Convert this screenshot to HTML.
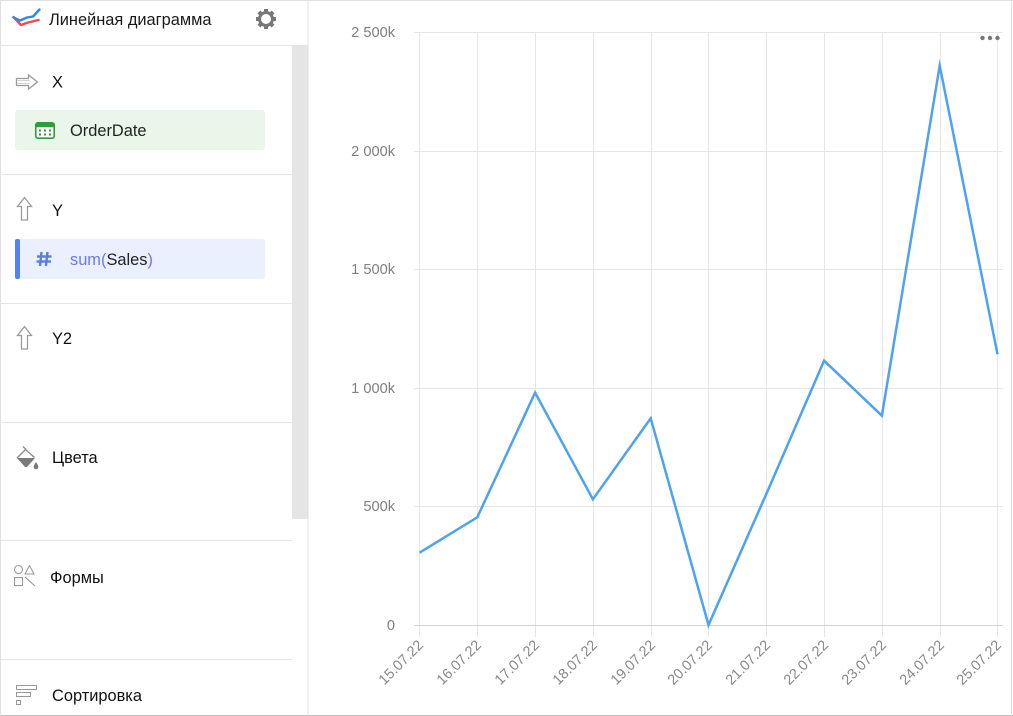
<!DOCTYPE html>
<html><head><meta charset="utf-8"><style>
html,body{margin:0;padding:0;background:#fff;}
svg{display:block;}
text{font-family:"Liberation Sans","DejaVu Sans",sans-serif;}
</style></head><body>
<svg width="1013" height="716" viewBox="0 0 1013 716" xmlns="http://www.w3.org/2000/svg">
<rect x="0" y="0" width="1013" height="716" fill="#fff"/>
<!-- scrollbar track -->
<rect x="292" y="45" width="16" height="474" fill="#e5e5e5"/>
<!-- outer borders -->
<line x1="0" y1="0.5" x2="1013" y2="0.5" stroke="#e0e0e0"/>
<line x1="0" y1="715.5" x2="1013" y2="715.5" stroke="#bdbdbd"/>
<line x1="0.5" y1="0" x2="0.5" y2="716" stroke="#e0e0e0"/>
<line x1="1011.5" y1="0" x2="1011.5" y2="716" stroke="#e0e0e0"/>
<line x1="308" y1="0" x2="308" y2="716" stroke="#e0e0e0"/>
<!-- header -->
<line x1="0" y1="45.5" x2="308" y2="45.5" stroke="#e5e5e5"/>
<polyline points="13.5,17 21,25 28,22.5 38.5,20" fill="none" stroke="#f4474c" stroke-width="2.4" stroke-linejoin="round" stroke-linecap="round"/>
<polyline points="13.5,17.5 20,20.5 27,17.5 33,16.5 39.5,9.5" fill="none" stroke="#2f86ef" stroke-width="2.4" stroke-linejoin="round" stroke-linecap="round"/>
<text x="49" y="25" font-size="16.4" fill="#1a1a1a">Линейная диаграмма</text>
<g transform="translate(266,19)" fill="#777">
  <circle r="6.5" fill="none" stroke="#777" stroke-width="3"/>
  <g>
    <rect x="-2" y="-10" width="4" height="4"/>
    <rect x="-2" y="6" width="4" height="4"/>
    <rect x="-10" y="-2" width="4" height="4"/>
    <rect x="6" y="-2" width="4" height="4"/>
    <g transform="rotate(45)">
      <rect x="-2" y="-10" width="4" height="4"/>
      <rect x="-2" y="6" width="4" height="4"/>
      <rect x="-10" y="-2" width="4" height="4"/>
      <rect x="6" y="-2" width="4" height="4"/>
    </g>
  </g>
</g>
<!-- section dividers -->
<line x1="0" y1="174.5" x2="292" y2="174.5" stroke="#e5e5e5"/>
<line x1="0" y1="303.5" x2="292" y2="303.5" stroke="#e5e5e5"/>
<line x1="0" y1="422.5" x2="292" y2="422.5" stroke="#e5e5e5"/>
<line x1="0" y1="540.5" x2="292" y2="540.5" stroke="#e5e5e5"/>
<line x1="0" y1="659.5" x2="292" y2="659.5" stroke="#e5e5e5"/>
<!-- X section -->
<path d="M16.5,78.5 H28.5 V75 L37.5,82 L28.5,89 V85.5 H16.5 Z" fill="none" stroke="#9a9a9a" stroke-width="1.3" stroke-linejoin="miter"/>
<path d="M17.5,80.5 H30 M17.5,83.5 H30" stroke="#c8c8c8" stroke-width="0.8"/>
<text x="52" y="87.5" font-size="16.4" fill="#111">X</text>
<rect x="15" y="110" width="250" height="40" rx="3" fill="#e9f6e9"/>
<rect x="35.8" y="122.8" width="18.4" height="15.4" rx="2" fill="#fff" stroke="#2f9e36" stroke-width="1.6"/>
<rect x="35.8" y="122.8" width="18.4" height="4.5" rx="1" fill="#2f9e36"/>
<g fill="#2f9e36"><rect x="39" y="129.5" width="2" height="2"/><rect x="44" y="129.5" width="2" height="2"/><rect x="49" y="129.5" width="2" height="2"/><rect x="39" y="133.5" width="2" height="2"/><rect x="44" y="133.5" width="2" height="2"/><rect x="49" y="133.5" width="2" height="2"/></g>
<text x="70" y="136" font-size="16.4" fill="#222">OrderDate</text>
<!-- Y section -->
<path d="M21.5,220 V206.5 H17.5 L24.5,197.5 L31.5,206.5 H27.5 V220 Z" fill="none" stroke="#9a9a9a" stroke-width="1.3"/>
<text x="52" y="216" font-size="16.4" fill="#111">Y</text>
<rect x="15" y="239" width="250" height="40" rx="3" fill="#eaf0fd"/>
<rect x="15" y="239" width="5" height="40" rx="2" fill="#5282f8"/>
<g stroke="#5a7de0" stroke-width="2.4">
  <line x1="41.5" y1="252" x2="40" y2="266"/>
  <line x1="47.5" y1="252" x2="46" y2="266"/>
  <line x1="37" y1="256.5" x2="51.5" y2="256.5"/>
  <line x1="36.5" y1="261.5" x2="51" y2="261.5"/>
</g>
<text x="70" y="265" font-size="16.4" fill="#222"><tspan fill="#6d79ee">sum(</tspan>Sales<tspan fill="#6d79ee">)</tspan></text>
<!-- Y2 -->
<path d="M21.5,349 V335.5 H17.5 L24.5,326.5 L31.5,335.5 H27.5 V349 Z" fill="none" stroke="#9a9a9a" stroke-width="1.3"/>
<text x="52" y="344" font-size="16.4" fill="#111">Y2</text>
<!-- Цвета -->
<path d="M17,458 L35,458 L27,467 L25,467 Z" fill="#7a7a7a"/>
<path d="M17,458 L25.5,449.5 L34.5,457.5" fill="none" stroke="#888" stroke-width="1.3"/>
<path d="M23,446.5 L26,449.5" stroke="#888" stroke-width="1.3"/>
<path d="M36,462 Q38.8,466 38.3,467.5 A2.4,2.4 0 0 1 33.7,467.5 Q33.2,466 36,462 Z" fill="#7a7a7a"/>
<text x="52" y="463" font-size="16.4" fill="#111">Цвета</text>
<!-- Формы -->
<circle cx="18.5" cy="569.5" r="4" fill="none" stroke="#999" stroke-width="1.1"/>
<path d="M25,574 L29.5,565.5 L34,574 Z" fill="none" stroke="#999" stroke-width="1.1"/>
<rect x="14.5" y="577.5" width="8" height="8" fill="none" stroke="#999" stroke-width="1.1"/>
<line x1="25" y1="577" x2="35" y2="586" stroke="#999" stroke-width="1.1"/>
<text x="50" y="583" font-size="16.4" fill="#111">Формы</text>
<!-- Сортировка -->
<rect x="16.5" y="685.5" width="20" height="4" fill="none" stroke="#999" stroke-width="1"/>
<rect x="16.5" y="692.5" width="14" height="4" fill="none" stroke="#999" stroke-width="1"/>
<rect x="16.5" y="700.5" width="4" height="4" fill="none" stroke="#999" stroke-width="1"/>
<text x="52" y="701" font-size="16.4" fill="#111">Сортировка</text>

<!-- CHART -->
<g stroke="#e6e6e6" stroke-width="1">
  <line x1="414" y1="32.5" x2="1003" y2="32.5"/>
  <line x1="414" y1="151.5" x2="1003" y2="151.5"/>
  <line x1="414" y1="269.5" x2="1003" y2="269.5"/>
  <line x1="414" y1="388.5" x2="1003" y2="388.5"/>
  <line x1="414" y1="506.5" x2="1003" y2="506.5"/>
  <line x1="419.5" y1="32" x2="419.5" y2="637"/>
  <line x1="477.5" y1="32" x2="477.5" y2="637"/>
  <line x1="535.5" y1="32" x2="535.5" y2="637"/>
  <line x1="593.5" y1="32" x2="593.5" y2="637"/>
  <line x1="651.5" y1="32" x2="651.5" y2="637"/>
  <line x1="708.5" y1="32" x2="708.5" y2="637"/>
  <line x1="766.5" y1="32" x2="766.5" y2="637"/>
  <line x1="824.5" y1="32" x2="824.5" y2="637"/>
  <line x1="882.5" y1="32" x2="882.5" y2="637"/>
  <line x1="940.5" y1="32" x2="940.5" y2="637"/>
  <line x1="997.5" y1="32" x2="997.5" y2="637"/>
</g>
<line x1="414" y1="625.5" x2="1003" y2="625.5" stroke="#d2d2d2"/>
<g font-size="14.6" fill="#808080" text-anchor="end">
  <text x="395" y="37">2 500k</text>
  <text x="395" y="156">2 000k</text>
  <text x="395" y="274">1 500k</text>
  <text x="395" y="393">1 000k</text>
  <text x="395" y="511">500k</text>
  <text x="395" y="630">0</text>
</g>
<g font-size="14.4" fill="#888" text-anchor="end">
  <text transform="translate(424,646) rotate(-45)">15.07.22</text>
  <text transform="translate(482,646) rotate(-45)">16.07.22</text>
  <text transform="translate(540,646) rotate(-45)">17.07.22</text>
  <text transform="translate(598,646) rotate(-45)">18.07.22</text>
  <text transform="translate(656,646) rotate(-45)">19.07.22</text>
  <text transform="translate(713,646) rotate(-45)">20.07.22</text>
  <text transform="translate(771,646) rotate(-45)">21.07.22</text>
  <text transform="translate(829,646) rotate(-45)">22.07.22</text>
  <text transform="translate(887,646) rotate(-45)">23.07.22</text>
  <text transform="translate(945,646) rotate(-45)">24.07.22</text>
  <text transform="translate(1002,646) rotate(-45)">25.07.22</text>
</g>
<polyline points="419.5,552.7 477.3,517.3 535.1,392.7 592.9,499.3 650.7,418.3 708.5,625 766.3,494 824.1,360.7 881.9,415.7 939.7,65.7 997.5,354.3" fill="none" stroke="#4da2f1" stroke-width="2.5" stroke-linejoin="miter" stroke-miterlimit="10"/>
<g fill="#777">
  <circle cx="982.5" cy="38" r="2.2"/>
  <circle cx="990" cy="38" r="2.2"/>
  <circle cx="997.5" cy="38" r="2.2"/>
</g>
</svg>
</body></html>
